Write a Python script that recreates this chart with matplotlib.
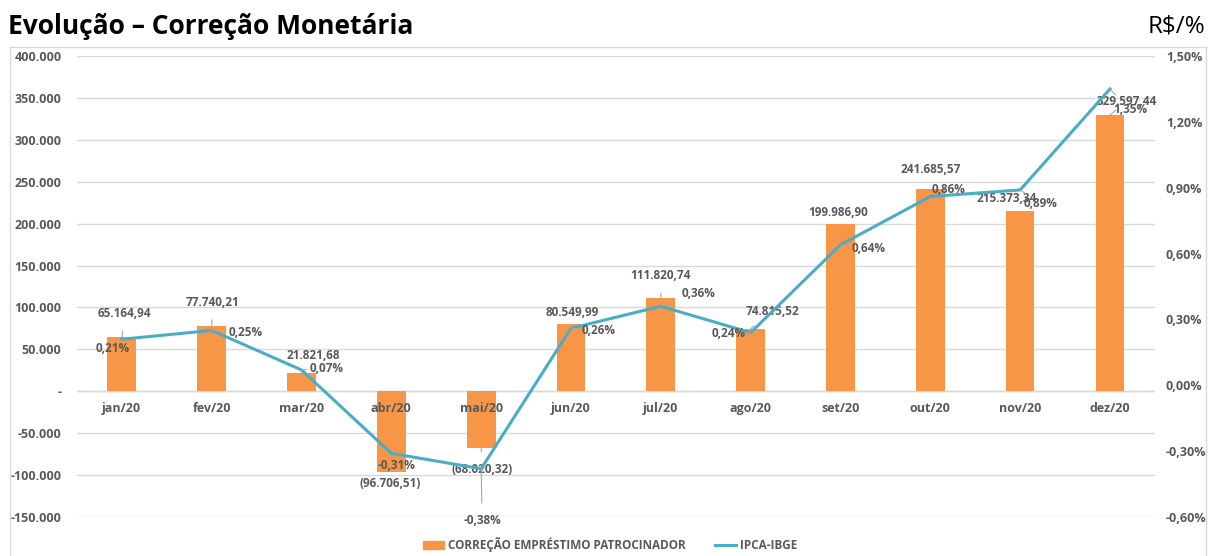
import matplotlib.pyplot as plt
import matplotlib.ticker as mticker
from matplotlib.lines import Line2D
from matplotlib.patches import Patch
import numpy as np

plt.rcParams['font.family'] = ['Open Sans', 'DejaVu Sans']

# ----------------------------------------------
# Dados
# ----------------------------------------------
meses = ["jan/20", "fev/20", "mar/20", "abr/20", "mai/20", "jun/20",
         "jul/20", "ago/20", "set/20", "out/20", "nov/20", "dez/20"]
correcao = [65164.94, 77740.21, 21821.68, -96706.51, -68020.32, 80549.99,
            111820.74, 74815.52, 199986.90, 241685.57, 215373.34, 329597.44]
ipca = [0.21, 0.25, 0.07, -0.31, -0.38, 0.26, 0.36, 0.24, 0.64, 0.86, 0.89, 1.35]

# deslocamento dos rótulos (pixels)
off_barra = [(3, 23), (1, 24), (12, 18), (-1, -11), (1, -21), (1, 11),
             (0, 22), (22, 17), (-2, 11), (0, 19), (-13, 12), (17, 14)]
off_linha = [(-9, -9), (34, -2), (25, 1), (5, -12), (1, -52), (28, -2),
             (38, 13), (-22, -1), (28, -4), (18, 7), (20, -14), (20, -21)]

LARANJA = "#F79646"
AZUL = "#4BACC6"
CINZA = "#595959"


def fmt_br(v, dec=2):
    s = f"{abs(v):,.{dec}f}".replace(",", "X").replace(".", ",").replace("X", ".")
    return f"({s})" if v < 0 else s


fig = plt.figure(figsize=(12.08, 5.56), dpi=100)
ax = fig.add_axes([0.0637, 0.0701, 0.8923, 0.8291])
ax2 = ax.twinx()

x = np.arange(len(meses))
ax.bar(x, correcao, width=0.32, color=LARANJA, zorder=2)
ax2.plot(x, ipca, color=AZUL, lw=2.2, zorder=3)

ax.set_xlim(-0.5, len(meses) - 0.5)
ax.set_ylim(-150000, 400000)
ax.set_yticks(np.arange(-150000, 400001, 50000))
ax.yaxis.set_major_formatter(mticker.FuncFormatter(
    lambda v, p: "-" if v == 0 else fmt_br(v, 0).replace("(", "-").replace(")", "")))
ax2.set_ylim(-0.6, 1.5)
ax2.set_yticks(np.arange(-0.6, 1.51, 0.3))
ax2.yaxis.set_major_formatter(mticker.FuncFormatter(
    lambda v, p: f"{v:.2f}%".replace(".", ",").replace("-0,00", "0,00")))

ax.grid(axis="y", color="#D9D9D9", lw=1, zorder=0)
ax.set_axisbelow(True)
for a in (ax, ax2):
    for s in a.spines.values():
        s.set_visible(False)
    a.tick_params(length=0, labelsize=9, labelcolor=CINZA)
    for t in a.get_yticklabels():
        t.set_fontweight("bold")
ax.tick_params(axis="y", pad=11)
ax2.tick_params(axis="y", pad=8)
ax.set_xticks([])
ax.axhline(0, color="#D9D9D9", lw=1, zorder=1)

for i, m in enumerate(meses):
    ax.annotate(m, (i, 0), xytext=(0, -17), textcoords="offset pixels",
                ha="center", va="center", fontsize=9, fontweight="bold", color=CINZA)

def rotulo(a, xi, yi, txt, off):
    dist = np.hypot(*off)
    props = dict(arrowstyle="-", color="#A6A6A6", lw=0.8,
                 shrinkA=6, shrinkB=0) if dist > 20 else None
    a.annotate(txt, (xi, yi), xytext=off, textcoords="offset pixels",
               ha="center", va="center", fontsize=8.5, fontweight="bold",
               color=CINZA, arrowprops=props, zorder=5)

for i in range(len(meses)):
    rotulo(ax, i, correcao[i], fmt_br(correcao[i]), off_barra[i])
    rotulo(ax2, i, ipca[i], f"{ipca[i]:.2f}%".replace(".", ","), off_linha[i])

# título
fig.text(8 / 1208, 1 - 26 / 556, "Evolução – Correção Monetária", fontsize=19,
         fontweight="bold", color="black", ha="left", va="center")
fig.text(1205 / 1208, 1 - 26 / 556, "R$/%", fontsize=17.5, color="black",
         ha="right", va="center")

# moldura
ytop = 1 - 47 / 556
xl, xr = 10 / 1208, 1206 / 1208
for xs, ys in [([xl, xl], [0, ytop]), ([xl, xr], [ytop, ytop]), ([xr, xr], [ytop, 0])]:
    fig.add_artist(Line2D(xs, ys, transform=fig.transFigure, color="#D9D9D9", lw=1))

handles = [Patch(color=LARANJA, label="CORREÇÃO EMPRÉSTIMO PATROCINADOR"),
           Line2D([], [], color=AZUL, lw=2.2, label="IPCA-IBGE")]
leg = fig.legend(handles=handles, loc="center", bbox_to_anchor=(0.505, 0.021),
                 ncol=2, frameon=False, fontsize=8.5, columnspacing=2.5,
                 handlelength=1.8, handletextpad=0.3, handleheight=0.7)
for t in leg.get_texts():
    t.set_color(CINZA)
    t.set_fontweight("bold")

fig.savefig("out.png", dpi=100)
